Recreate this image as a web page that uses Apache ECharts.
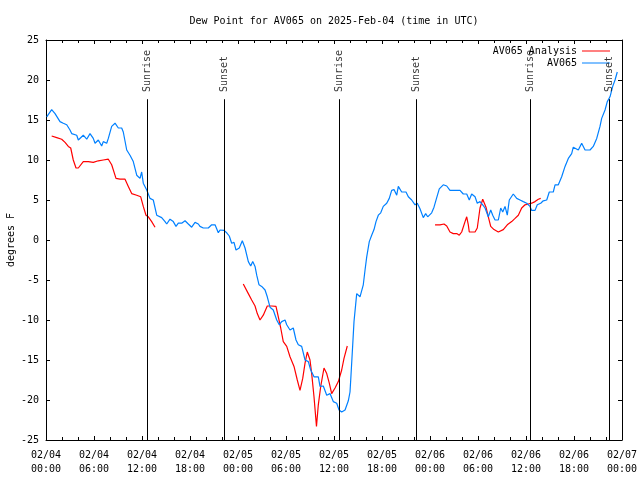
<!DOCTYPE html>
<html><head><meta charset="utf-8">
<script src="https://cdn.jsdelivr.net/npm/echarts@6/dist/echarts.min.js"></script>
<style>html,body{margin:0;padding:0;background:#fff}#c{width:640px;height:480px}</style>
</head><body><div id="c"></div>
<script>
// x values are hours since 2025-02-04 00:00 UTC
const tickLabels = ['02/04\n00:00','02/04\n06:00','02/04\n12:00','02/04\n18:00','02/05\n00:00','02/05\n06:00','02/05\n12:00','02/05\n18:00','02/06\n00:00','02/06\n06:00','02/06\n12:00','02/06\n18:00','02/07\n00:00'];

const obsHours = [0.09,0.71,1.13,1.75,2.16,2.59,3.0,3.21,3.84,4.04,4.25,4.66,5.09,5.5,5.91,6.13,6.54,6.96,7.16,7.59,7.79,8.21,8.63,9.04,9.46,9.66,10.09,10.5,10.91,11.34,11.75,11.96,12.16,12.59,13.0,13.41,13.84,14.46,14.88,15.09,15.5,15.91,16.25,16.54,16.96,17.38,17.79,18.21,18.63,19.04,19.25,19.66,20.29,20.71,21.13,21.54,21.75,22.25,22.59,22.91,23.21,23.5,23.75,24.16,24.54,24.88,25.29,25.59,25.84,26.13,26.34,26.63,26.96,27.38,27.66,28.0,28.41,28.84,29.16,29.46,29.88,30.09,30.5,30.91,31.25,31.54,31.96,32.38,32.79,33.09,33.5,34.04,34.25,34.66,35.09,35.5,35.91,36.34,36.63,36.96,37.38,37.79,38.0,38.09,38.34,38.5,38.84,39.25,39.66,39.88,40.09,40.41,40.71,41.0,41.25,41.54,41.84,42.16,42.59,42.91,43.21,43.5,43.84,44.04,44.46,45.0,45.29,45.71,46.13,46.41,46.75,47.16,47.46,47.71,48.21,48.5,48.84,49.16,49.66,50.09,50.5,51.75,52.16,52.59,52.91,53.21,53.63,53.91,54.25,54.59,54.88,55.09,55.29,55.59,55.84,56.13,56.54,56.84,57.09,57.38,57.66,57.91,58.41,58.84,59.25,59.66,60.09,60.5,60.71,61.13,61.41,61.84,62.16,62.59,62.91,63.41,63.63,64.04,64.46,64.88,65.29,65.71,65.91,66.54,66.96,67.38,68.0,68.41,68.84,69.25,69.46,69.88,70.16,70.5,70.84,71.13,71.41];
const obsValues = [15.4,16.3,15.8,14.8,14.6,14.4,13.75,13.3,13.1,12.5,12.7,13.1,12.6,13.3,12.7,12.1,12.5,11.75,12.3,12.1,12.7,14.2,14.6,14.0,14.0,13.5,11.25,10.6,9.8,8.1,7.7,8.5,7.1,6.25,5.2,5.0,3.1,2.8,2.3,2.0,2.6,2.3,1.7,2.1,2.1,2.4,2.0,1.6,2.2,2.0,1.7,1.5,1.5,1.9,1.9,0.9,1.25,1.2,0.9,0.5,-0.4,-0.3,-1.25,-1.0,-0.1,-1.0,-2.7,-3.25,-2.7,-3.3,-4.4,-5.6,-5.8,-6.25,-7.1,-8.4,-8.75,-10.0,-10.6,-10.2,-10.0,-10.6,-11.25,-11.0,-12.5,-13.1,-13.3,-15.0,-15.2,-16.25,-17.1,-17.1,-18.3,-18.25,-19.4,-19.2,-20.2,-20.4,-21.25,-21.5,-21.25,-20.1,-19.0,-17.5,-13.1,-10.2,-6.7,-7.1,-5.6,-3.75,-2.1,-0.2,0.6,1.3,2.3,3.1,3.4,4.2,4.6,5.2,6.2,6.3,5.6,6.7,6.0,6.0,5.4,5.0,4.4,4.6,3.9,2.8,3.3,2.9,3.4,4.1,5.3,6.4,6.9,6.75,6.2,6.2,5.75,5.75,5.0,5.75,5.4,4.6,4.8,4.4,4.0,4.25,2.9,3.75,3.1,2.5,2.5,4.0,3.5,4.2,3.1,5.0,5.75,5.2,5.0,4.8,4.6,4.2,3.7,3.7,4.4,4.6,4.9,5.0,6.0,6.0,6.9,6.9,7.9,9.2,10.2,10.8,11.6,11.25,12.1,11.25,11.25,11.7,12.7,14.2,15.2,16.25,17.3,17.9,19.2,20.0,21.0];

const anaHours1 = [0.71,1.34,1.96,2.38,2.79,3.09,3.41,3.75,4.04,4.66,5.29,5.91,6.54,7.16,7.79,8.21,8.75,9.25,9.88,10.29,10.71,11.34,11.84,12.16,12.5,12.79,13.21,13.63];
const anaValues1 = [13.0,12.8,12.6,12.2,11.7,11.5,10.0,9.0,9.0,9.8,9.8,9.7,9.9,10.0,10.1,9.4,7.7,7.6,7.6,6.7,5.8,5.6,5.4,4.2,3.1,2.9,2.3,1.6];
const anaHours2 = [24.66,25.29,25.71,26.13,26.41,26.75,27.16,27.66,28.21,28.75,29.04,29.34,29.66,30.09,30.5,31.0,31.41,31.75,32.09,32.38,32.66,33.0,33.21,33.5,33.81,34.04,34.34,34.75,35.09,35.41,35.71,36.13,36.54,36.96,37.25,37.66];
const anaValues2 = [-5.5,-6.7,-7.5,-8.25,-9.2,-10.0,-9.4,-8.25,-8.25,-8.3,-9.6,-11.0,-12.7,-13.3,-14.6,-15.8,-17.5,-18.8,-17.3,-15.4,-14.0,-15.0,-16.7,-19.6,-23.3,-20.6,-18.3,-16.0,-16.7,-17.9,-19.2,-18.5,-17.7,-16.25,-14.8,-13.25];
const anaHours3 = [48.63,49.25,49.75,50.09,50.5,50.91,51.34,51.66,51.96,52.38,52.59,52.79,52.91,53.63,53.91,54.25,54.59,54.75,55.0,55.29,55.59,56.0,56.54,56.75,57.16,57.66,58.21,58.63,59.04,59.46,59.88,60.29,60.71,61.13,61.54,61.84];
const anaValues3 = [1.9,1.9,2.0,1.75,1.0,0.8,0.8,0.6,1.0,2.3,2.9,1.9,1.0,1.0,1.5,4.0,5.1,5.2,4.1,2.9,1.7,1.3,1.0,0.95,1.3,1.9,2.3,2.7,3.1,4.0,4.4,4.5,4.6,4.8,5.1,5.2];

const sunEventNames = ['Sunrise','Sunset','Sunrise','Sunset','Sunrise','Sunset'];
const sunEventHours = [12.67,22.25,36.67,46.3,60.5,70.4];

const FONT = 'DejaVu Sans Mono';
const LABEL_LEVEL = 18.5;
const LINE_TOP = 17.6;

const obsData = obsHours.map((h, i) => [h, obsValues[i]]);
const anaData = [];
[[anaHours1, anaValues1], [anaHours2, anaValues2], [anaHours3, anaValues3]].forEach(([hs, vs], k) => {
  if (k > 0) anaData.push([hs[0] - 0.01, '-']);
  hs.forEach((h, i) => anaData.push([h, vs[i]]));
});

const chart = echarts.init(document.getElementById('c'), null, {renderer: 'canvas'});
const txt = {fontFamily: FONT, fontSize: 10, color: '#000'};
const baseX = {
  type: 'value', min: 0, max: 72, interval: 6,
  axisLine: {show: true, onZero: false, lineStyle: {color: '#000', width: 1}},
  axisTick: {show: true, inside: true, length: 4, lineStyle: {color: '#000'}},
  minorTick: {show: true, splitNumber: 3, length: 3, lineStyle: {color: '#000'}},
  splitLine: {show: false}, minorSplitLine: {show: false}
};
const baseY = {
  type: 'value', min: -25, max: 25, interval: 5,
  axisLine: {show: true, onZero: false, lineStyle: {color: '#000', width: 1}},
  axisTick: {show: true, inside: true, length: 4, lineStyle: {color: '#000'}},
  splitLine: {show: false}
};
chart.setOption({
  animation: false,
  backgroundColor: '#fff',
  title: {
    text: 'Dew Point for AV065 on 2025-Feb-04 (time in UTC)',
    left: 329, textAlign: 'center', top: 11,
    textStyle: Object.assign({fontWeight: 'normal'}, txt)
  },
  grid: {left: 46, right: 18, top: 40, bottom: 40, containLabel: false, outerBoundsMode: 'none'},
  legend: [
    {data: ['AV065 Analysis'], right: 30, top: 46, align: 'right', icon: 'rect', itemWidth: 28, itemHeight: 1, padding: 0, textStyle: txt, selectedMode: false},
    {data: ['AV065'], right: 30, top: 58, align: 'right', icon: 'rect', itemWidth: 28, itemHeight: 1, padding: 0, textStyle: txt, selectedMode: false}
  ],
  xAxis: [
    Object.assign({}, baseX, {position: 'bottom', axisLabel: Object.assign({formatter: v => tickLabels[Math.round(v / 6)], lineHeight: 14, margin: 8}, txt)}),
    Object.assign({}, baseX, {position: 'top', axisLabel: {show: false}})
  ],
  yAxis: [
    Object.assign({}, baseY, {position: 'left', axisLabel: Object.assign({margin: 7}, txt),
      name: 'degrees F', nameLocation: 'middle', nameGap: 30, nameRotate: 90, nameMoveOverlap: false, nameTextStyle: txt}),
    Object.assign({}, baseY, {position: 'right', axisLabel: {show: false}})
  ],
  series: [
    {
      name: 'AV065 Analysis', type: 'line', data: anaData, showSymbol: false, symbol: 'none',
      connectNulls: false, lineStyle: {color: '#ff0000', width: 1.2}, itemStyle: {color: '#ff0000'}, z: 3
    },
    {
      name: 'AV065', type: 'line', data: obsData, showSymbol: false, symbol: 'none',
      lineStyle: {color: '#0080ff', width: 1.2}, itemStyle: {color: '#0080ff'}, z: 4
    },
    {
      name: 'events', type: 'scatter', symbolSize: 0, silent: true, z: 5,
      data: sunEventHours.map((h, i) => ({value: [h, LABEL_LEVEL], name: sunEventNames[i]})),
      label: Object.assign({show: true, formatter: p => p.name, rotate: 90, align: 'left', verticalAlign: 'middle', position: 'inside'}, txt),
      markLine: {
        silent: true, symbol: 'none', animation: false, label: {show: false},
        lineStyle: {color: '#000', width: 1, type: 'solid'},
        emphasis: {disabled: true},
        data: sunEventHours.map(h => [{coord: [h, -25]}, {coord: [h, LINE_TOP]}])
      }
    }
  ]
});
</script></body></html>
